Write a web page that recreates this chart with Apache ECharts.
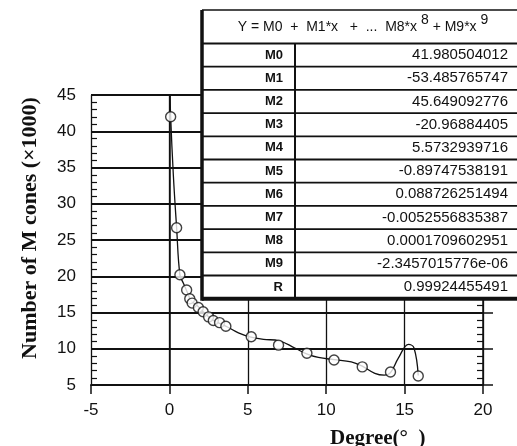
<!DOCTYPE html>
<html>
<head>
<meta charset="utf-8">
<title>M cones vs degree</title>
<script src="https://cdn.jsdelivr.net/npm/echarts/dist/echarts.min.js"></script>
<style>
  html, body { margin: 0; padding: 0; background: #fff; }
  #main { width: 517px; height: 446px; }
</style>
</head>
<body>
<div id="main"></div>
<script>
// measured points (circles)
var degree = [0.08, 0.46, 0.67, 1.1, 1.3, 1.45, 1.85, 2.15, 2.5, 2.8, 3.2, 3.6, 5.22, 6.96, 8.77, 10.5, 12.3, 14.1, 15.87];
var cones  = [42.0, 26.7, 20.2, 18.1, 16.9, 16.3, 15.7, 15.1, 14.4, 13.9, 13.6, 13.1, 11.66, 10.5, 9.37, 8.45, 7.5, 6.8, 6.24];

// fitted curve
var fitDegree = [0.02, 0.08, 0.25, 0.46, 0.67, 0.9, 1.1, 1.4, 1.8, 2.1, 2.5, 2.8, 3.2, 3.7, 4.4, 5.2, 6.0, 7.0, 8.0, 8.75, 9.5, 10.5, 11.6, 12.3, 13.1, 13.7, 14.1, 14.6, 15.25, 15.6, 15.87];
var fitCones  = [46.2, 42.0, 34.0, 26.7, 20.2, 19.0, 18.0, 16.6, 15.9, 15.2, 14.4, 13.9, 13.5, 13.0, 12.2, 11.6, 11.3, 11.1, 10.1, 9.3, 8.8, 8.5, 8.2, 7.6, 6.6, 6.35, 6.7, 8.7, 10.6, 10.1, 6.3];

// coefficient table
var coefNames  = ['M0', 'M1', 'M2', 'M3', 'M4', 'M5', 'M6', 'M7', 'M8', 'M9', 'R'];
var coefValues = ['41.980504012', '-53.485765747', '45.649092776', '-20.96884405', '5.5732939716',
                  '-0.89747538191', '0.088726251494', '-0.0052556835387', '0.0001709602951',
                  '-2.3457015776e-06', '0.99924455491'];

var sans = '"Liberation Sans", Arial, sans-serif';
var serif = '"Liberation Serif", "Times New Roman", serif';
var ink = '#111';

var myChart = echarts.init(document.getElementById('main'));

// table drawn on top of the plot
var tLeft = 202, tRight = 517, tTop = 10, headBottom = 43.5, rowH = 23.2, colX = 295;
var tBottom = headBottom + rowH * coefNames.length;
var tableParts = [
  { type: 'rect', z: 100, shape: { x: tLeft, y: 0, width: tRight - tLeft, height: tBottom }, style: { fill: '#fff' } },
  { type: 'line', z: 101, shape: { x1: tLeft, y1: tTop, x2: tRight, y2: tTop }, style: { stroke: ink, lineWidth: 1.5 } },
  { type: 'line', z: 101, shape: { x1: tLeft, y1: tTop, x2: tLeft, y2: tBottom + 2 }, style: { stroke: ink, lineWidth: 3.5 } },
  { type: 'line', z: 101, shape: { x1: colX, y1: headBottom, x2: colX, y2: tBottom }, style: { stroke: ink, lineWidth: 2 } },
  { type: 'line', z: 101, shape: { x1: tLeft, y1: tBottom, x2: tRight, y2: tBottom }, style: { stroke: ink, lineWidth: 4 } },
  {
    type: 'text', z: 101, x: 363, y: 27,
    style: {
      text: 'Y = M0  +  M1*x   +  ...  M8*x {s|8} + M9*x {s|9}',
      font: '14px ' + sans, fill: ink, align: 'center', verticalAlign: 'middle',
      rich: { s: { fontSize: 14, fontFamily: sans, fill: ink, padding: [0, 0, 14, 0] } }
    }
  }
];
for (var i = 0; i < coefNames.length; i++) {
  var yLine = headBottom + rowH * i;
  var yMid = yLine + rowH / 2;
  tableParts.push({ type: 'line', z: 101, shape: { x1: tLeft, y1: yLine, x2: tRight, y2: yLine }, style: { stroke: ink, lineWidth: 1.8 } });
  tableParts.push({ type: 'text', z: 101, x: 283, y: yMid, style: { text: coefNames[i], font: 'bold 13px ' + sans, fill: ink, align: 'right', verticalAlign: 'middle' } });
  tableParts.push({ type: 'text', z: 101, x: 508, y: yMid, style: { text: coefValues[i], font: '15px ' + sans, fill: ink, align: 'right', verticalAlign: 'middle' } });
}

var yRange = { type: 'value', min: 5, max: 45, interval: 5 };

myChart.setOption({
  animation: false,
  backgroundColor: '#fff',
  grid: { left: 91, right: 34, top: 95, bottom: 61 },
  xAxis: {
    type: 'value', min: -5, max: 20, interval: 5,
    axisLine: { onZero: false, lineStyle: { color: ink, width: 1.8 } },
    axisTick: { length: 9, lineStyle: { color: ink, width: 1.5 } },
    axisLabel: { fontSize: 17, fontFamily: sans, color: ink, margin: 17 },
    splitLine: { show: true, lineStyle: { color: ink, width: 1.3 } }
  },
  yAxis: [
    Object.assign({}, yRange, {
      position: 'left',
      axisLine: { show: true, lineStyle: { color: ink, width: 1.5 } },
      axisTick: { length: 12, lineStyle: { color: ink, width: 1.5 } },
      axisLabel: { fontSize: 17, fontFamily: sans, color: ink, margin: 15 },
      splitLine: { show: true, lineStyle: { color: ink, width: 1.8 } }
    }),
    Object.assign({}, yRange, {
      position: 'left',
      axisLine: { show: false },
      axisTick: { show: false, inside: true },
      axisLabel: { show: false },
      splitLine: { show: false },
      minorTick: { show: true, splitNumber: 5, length: 6, lineStyle: { color: ink, width: 1.2 } }
    }),
    Object.assign({}, yRange, {
      position: 'right',
      axisLine: { show: true, lineStyle: { color: ink, width: 1.5 } },
      axisTick: { length: 10, lineStyle: { color: ink, width: 1.5 } },
      axisLabel: { show: false },
      splitLine: { show: false }
    }),
    Object.assign({}, yRange, {
      position: 'right',
      axisLine: { show: false },
      axisTick: { show: false, inside: true },
      axisLabel: { show: false },
      splitLine: { show: false },
      minorTick: { show: true, splitNumber: 5, length: 6, lineStyle: { color: ink, width: 1.2 } }
    })
  ],
  series: [
    {
      type: 'line',
      smooth: 0.4,
      showSymbol: false,
      lineStyle: { color: ink, width: 1.3 },
      data: fitDegree.map(function (d, i) { return [d, fitCones[i]]; }),
      z: 3
    },
    {
      type: 'scatter',
      symbol: 'circle',
      symbolSize: 10,
      itemStyle: { color: '#fff', borderColor: ink, borderWidth: 1.4 },
      data: degree.map(function (d, i) { return [d, cones[i]]; }),
      z: 4
    }
  ],
  graphic: [
    { type: 'group', z: 100, children: tableParts },
    {
      type: 'text', x: 30, y: 228, rotation: Math.PI / 2, z: 100,
      style: { text: 'Number of M cones (×1000)', font: 'bold 22px ' + serif, fill: ink, align: 'center', verticalAlign: 'middle' }
    },
    {
      type: 'text', x: 330, y: 439, z: 100,
      style: { text: 'Degree(°  )', font: 'bold 21px ' + serif, fill: ink, align: 'left', verticalAlign: 'middle' }
    }
  ]
});
</script>
</body>
</html>
